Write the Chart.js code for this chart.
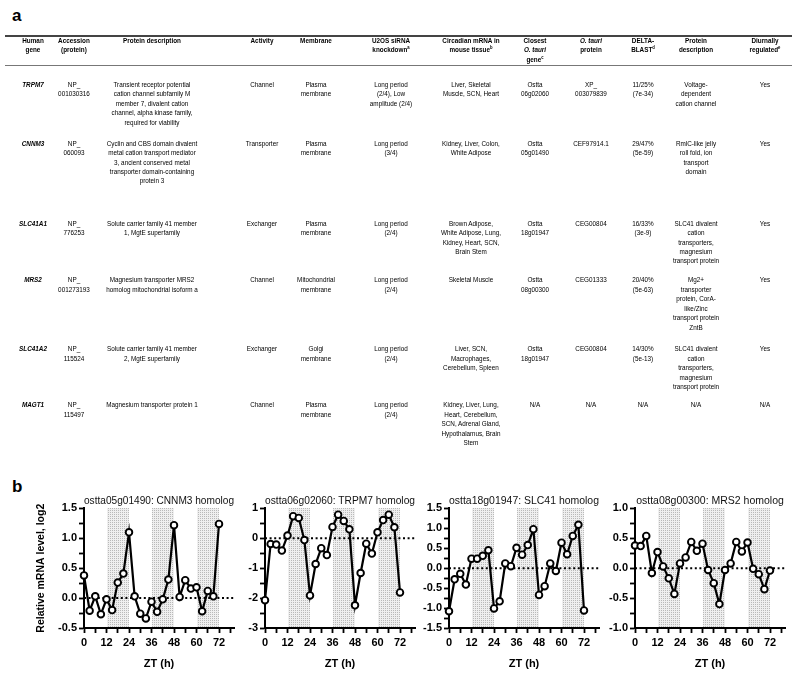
<!DOCTYPE html>
<html><head><meta charset="utf-8">
<script src="https://cdn.jsdelivr.net/npm/chart.js@4.4.1/dist/chart.umd.min.js"></script>
<style>
html,body{margin:0;padding:0;background:#fff;}
body{width:800px;height:677px;position:relative;overflow:hidden;font-family:'Liberation Sans',Arial,sans-serif;color:#000;}
.lbl{position:absolute;font-weight:bold;font-size:17px;line-height:20px;color:#000;}
#tbl{position:absolute;left:0;top:0;width:800px;height:470px;will-change:transform;}
.cell{position:absolute;text-align:center;font-size:7.3px;line-height:9.45px;white-space:nowrap;transform:translateX(-50%) scaleX(0.87);transform-origin:50% 0;color:#000;}
.hdr{font-weight:bold;color:#000;}
.gene{font-weight:bold;font-style:italic;color:#000;}
sup{font-size:4.8px;line-height:0;vertical-align:3px;}
.rule{position:absolute;left:5px;width:787px;}
canvas{position:absolute;}
</style></head><body>
<div class="lbl" style="left:12px;top:6px">a</div>
<div class="lbl" style="left:12px;top:477px">b</div>
<div class="rule" style="top:35px;height:1.6px;background:#444"></div>
<div class="rule" style="top:64.5px;height:0.8px;background:#777"></div>
<div id="tbl"></div>
<canvas id="c0" width="242" height="185" style="left:0px;top:492px"></canvas>
<canvas id="c1" width="188" height="185" style="left:235px;top:492px"></canvas>
<canvas id="c2" width="198" height="185" style="left:409px;top:492px"></canvas>
<canvas id="c3" width="198" height="185" style="left:595px;top:492px"></canvas>
<script>
// ---------- Table (part a) ----------
const colX = [33, 74, 152, 262, 316, 391, 471, 535, 591, 643, 696, 765];
const rowY = [40.3, 84.7, 143.3, 223.3, 280, 349, 405];
const headerCells = [
  "Human<br>gene", "Accession<br>(protein)", "Protein description", "Activity", "Membrane",
  "U2OS siRNA<br>knockdown<sup>a</sup>", "Circadian mRNA in<br>mouse tissue<sup>b</sup>",
  "Closest<br><i>O. tauri</i><br>gene<sup>c</sup>", "<i>O. tauri</i><br>protein",
  "DELTA-<br>BLAST<sup>d</sup>", "Protein<br>description", "Diurnally<br>regulated<sup>e</sup>"
];
const tableRows = [
  ["TRPM7", "NP_<br>001030316",
   "Transient receptor potential<br>cation channel subfamily M<br>member 7, divalent cation<br>channel, alpha kinase family,<br>required for viability",
   "Channel", "Plasma<br>membrane", "Long period<br>(2/4), Low<br>amplitude (2/4)",
   "Liver, Skeletal<br>Muscle, SCN, Heart", "Ostta<br>06g02060", "XP_<br>003079839",
   "11/25%<br>(7e-34)", "Voltage-<br>dependent<br>cation channel", "Yes"],
  ["CNNM3", "NP_<br>060093",
   "Cyclin and CBS domain divalent<br>metal cation transport mediator<br>3, ancient conserved metal<br>transporter domain-containing<br>protein 3",
   "Transporter", "Plasma<br>membrane", "Long period<br>(3/4)",
   "Kidney, Liver, Colon,<br>White Adipose", "Ostta<br>05g01490", "CEF97914.1",
   "29/47%<br>(5e-59)", "RmlC-like jelly<br>roll fold, ion<br>transport<br>domain", "Yes"],
  ["SLC41A1", "NP_<br>776253",
   "Solute carrier family 41 member<br>1, MgtE superfamily",
   "Exchanger", "Plasma<br>membrane", "Long period<br>(2/4)",
   "Brown Adipose,<br>White Adipose, Lung,<br>Kidney, Heart, SCN,<br>Brain Stem", "Ostta<br>18g01947", "CEG00804",
   "16/33%<br>(3e-9)", "SLC41 divalent<br>cation<br>transporters,<br>magnesium<br>transport protein", "Yes"],
  ["MRS2", "NP_<br>001273193",
   "Magnesium transporter MRS2<br>homolog mitochondrial isoform a",
   "Channel", "Mitochondrial<br>membrane", "Long period<br>(2/4)",
   "Skeletal Muscle", "Ostta<br>08g00300", "CEG01333",
   "20/40%<br>(5e-63)", "Mg2+<br>transporter<br>protein, CorA-<br>like/Zinc<br>transport protein<br>ZntB", "Yes"],
  ["SLC41A2", "NP_<br>115524",
   "Solute carrier family 41 member<br>2, MgtE superfamily",
   "Exchanger", "Golgi<br>membrane", "Long period<br>(2/4)",
   "Liver, SCN,<br>Macrophages,<br>Cerebellum, Spleen", "Ostta<br>18g01947", "CEG00804",
   "14/30%<br>(5e-13)", "SLC41 divalent<br>cation<br>transporters,<br>magnesium<br>transport protein", "Yes"],
  ["MAGT1", "NP_<br>115497",
   "Magnesium transporter protein 1",
   "Channel", "Plasma<br>membrane", "Long period<br>(2/4)",
   "Kidney, Liver, Lung,<br>Heart, Cerebellum,<br>SCN, Adrenal Gland,<br>Hypothalamus, Brain<br>Stem", "N/A", "N/A",
   "N/A", "N/A", "N/A"]
];
(function buildTable(){
  const host = document.getElementById('tbl');
  const add = (html, ci, ri, cls) => {
    const d = document.createElement('div');
    d.className = 'cell ' + (cls || '');
    d.style.left = colX[ci] + 'px';
    d.style.top = (rowY[ri] - 4.7) + 'px';
    d.innerHTML = html;
    host.appendChild(d);
  };
  headerCells.forEach((h, ci) => add(h, ci, 0, 'hdr'));
  tableRows.forEach((r, ri) => r.forEach((c, ci) => add(c, ci, ri + 1, ci === 0 ? 'gene' : '')));
})();

// ---------- Chart data (part b) ----------
const zt = [0,3,6,9,12,15,18,21,24,27,30,33,36,39,42,45,48,51,54,57,60,63,66,69,72];
const cnnm3 = [0.38,-0.21,0.03,-0.27,-0.02,-0.20,0.26,0.41,1.10,0.03,-0.26,-0.34,-0.06,-0.23,-0.02,0.31,1.22,0.02,0.30,0.16,0.18,-0.22,0.12,0.03,1.24];
const trpm7 = [-2.07,-0.19,-0.21,-0.41,0.09,0.74,0.68,-0.06,-1.91,-0.86,-0.33,-0.56,0.38,0.79,0.58,0.30,-2.24,-1.16,-0.18,-0.51,0.20,0.61,0.79,0.37,-1.81];
const slc41 = [-1.08,-0.28,-0.14,-0.41,0.24,0.24,0.31,0.45,-1.01,-0.83,0.12,0.05,0.51,0.34,0.58,0.98,-0.67,-0.45,0.12,-0.07,0.64,0.35,0.81,1.09,-1.06];
const mrs2 = [0.38,0.37,0.54,-0.08,0.27,0.03,-0.17,-0.43,0.08,0.18,0.44,0.29,0.41,-0.03,-0.25,-0.60,-0.03,0.08,0.44,0.28,0.43,-0.01,-0.10,-0.35,-0.04];
const seriesList = [cnnm3, trpm7, slc41, mrs2];
const chartTitles = ["ostta05g01490: CNNM3 homolog", "ostta06g02060: TRPM7 homolog", "ostta18g01947: SLC41 homolog", "ostta08g00300: MRS2 homolog"];
const yMins = [-0.5, -3, -1.5, -1];
const yMaxs = [1.5, 1, 1.5, 1];
const yMajorSteps = [0.5, 1, 0.5, 0.5];
const yDecimals = [1, 0, 1, 1];
const xTickValues = [0,6,12,18,24,30,36,42,48,54,60,66,72,78];
const xLabelValues = [0,12,24,36,48,60,72];
const darkPhases = [[12,24],[36,48],[60,72]];
const xMax = 80;
const yAxisWidths = [84, 30, 40, 40];

// fine stipple pattern for dark phases
const pc = document.createElement('canvas');
pc.width = 2; pc.height = 2;
const pctx = pc.getContext('2d');
pctx.fillStyle = '#efefef'; pctx.fillRect(0,0,2,2);
pctx.fillStyle = '#b9b9b9'; pctx.fillRect(0,0,1,1);

const shadePlugin = {
  id: 'shade',
  beforeDraw(chart) {
    const {ctx, chartArea, scales} = chart;
    const pat = ctx.createPattern(pc, 'repeat');
    ctx.save();
    ctx.fillStyle = pat;
    darkPhases.forEach(([a, b]) => {
      const x1 = Math.round(scales.x.getPixelForValue(a)), x2 = Math.round(scales.x.getPixelForValue(b));
      ctx.fillRect(x1, Math.round(chartArea.top), x2 - x1, Math.round(chartArea.bottom - chartArea.top) - 1);
    });
    ctx.restore();
  }
};

const FAMILY = "'Liberation Sans', Arial, Helvetica, sans-serif";
seriesList.forEach((vals, i) => {
  const ctx = document.getElementById('c' + i).getContext('2d');
  new Chart(ctx, {
    type: 'line',
    data: {
      datasets: [
        {
          data: zt.map((t, k) => ({x: t, y: vals[k]})),
          borderColor: '#000', borderWidth: 2.2, tension: 0,
          pointRadius: 3.3, pointBorderWidth: 1.9,
          pointBackgroundColor: '#fff', pointBorderColor: '#000',
          clip: false, order: 1
        },
        {
          data: [{x: 0, y: 0}, {x: xMax, y: 0}],
          borderColor: '#000', borderWidth: 2, borderDash: [2, 2.6],
          pointRadius: 0, tension: 0, order: 2
        }
      ]
    },
    options: {
      responsive: false, animation: false, devicePixelRatio: 1,
      layout: {padding: {left: 0, right: 8, top: 0, bottom: 0}},
      plugins: {
        legend: {display: false}, tooltip: {enabled: false},
        title: {
          display: true, text: chartTitles[i], fullSize: false,
          font: {family: FAMILY, size: 10.5, weight: 'normal'}, color: '#111',
          padding: {top: 3, bottom: 0.8}
        }
      },
      scales: {
        x: {
          type: 'linear', min: 0, max: xMax,
          afterBuildTicks(scale) { scale.ticks = xTickValues.map(v => ({value: v})); },
          afterFit(scale) { scale.height = 49; },
          grid: {drawOnChartArea: false, drawTicks: true, tickLength: 5, tickColor: '#000', tickWidth: 1.8},
          border: {display: true, color: '#000', width: 2},
          ticks: {
            autoSkip: false, maxRotation: 0, padding: 3, color: '#000',
            font: {family: FAMILY, size: 11, weight: 'bold'},
            callback: v => xLabelValues.includes(v) ? String(v) : ''
          },
          title: {
            display: true, text: 'ZT (h)', color: '#000',
            font: {family: FAMILY, size: 11, weight: 'bold'},
            padding: {top: 0, bottom: 6.5}
          }
        },
        y: {
          type: 'linear', min: yMins[i], max: yMaxs[i],
          afterBuildTicks(scale) {
            const t = [];
            const step = yMajorSteps[i] / 2;
            for (let v = yMins[i]; v <= yMaxs[i] + 1e-9; v += step) t.push({value: Math.round(v * 1000) / 1000});
            scale.ticks = t;
          },
          afterFit(scale) { scale.width = yAxisWidths[i]; },
          grid: {drawOnChartArea: false, drawTicks: true, tickLength: 5, tickColor: '#000', tickWidth: 1.8},
          border: {display: true, color: '#000', width: 2},
          ticks: {
            autoSkip: false, padding: 2, color: '#000',
            font: {family: FAMILY, size: 11, weight: 'bold'},
            callback: v => {
              const r = v / yMajorSteps[i];
              return Math.abs(r - Math.round(r)) < 1e-6 ? v.toFixed(yDecimals[i]) : '';
            }
          },
          title: {
            display: i === 0, text: 'Relative mRNA level, log2', color: '#000',
            font: {family: FAMILY, size: 10.5, weight: 'bold'},
            padding: {top: 34.7, bottom: 0}
          }
        }
      }
    },
    plugins: [shadePlugin]
  });
});
</script>
</body></html>
